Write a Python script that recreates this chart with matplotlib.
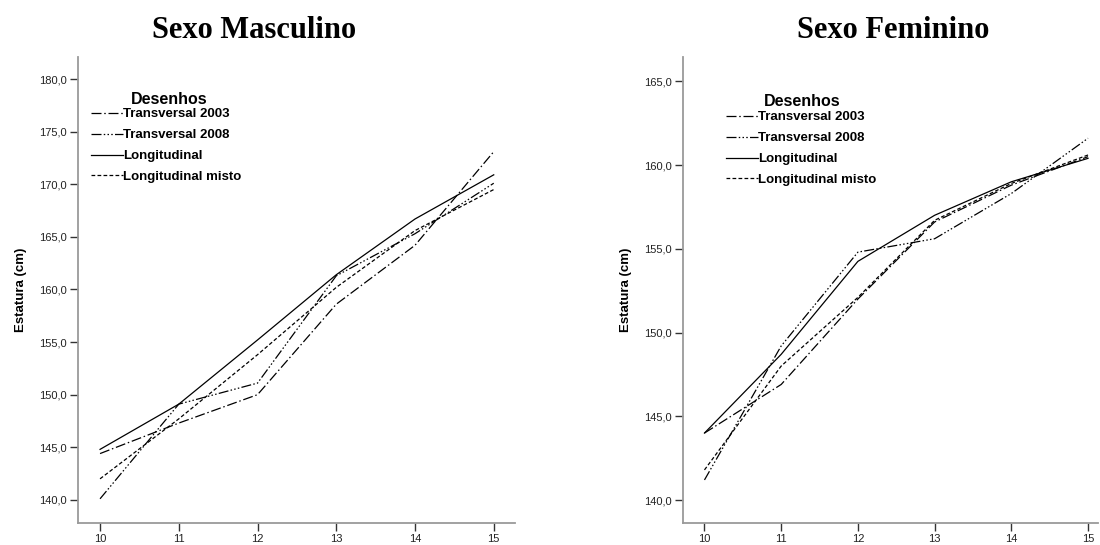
import matplotlib
matplotlib.use("Agg")
import matplotlib.pyplot as plt
from matplotlib.ticker import FuncFormatter

ages = [10, 11, 12, 13, 14, 15]

# Sexo Masculino
masc_t2003 = [144.4, 147.3, 150.0, 158.6, 164.2, 173.1]
masc_t2008 = [140.1, 149.1, 151.1, 161.3, 165.3, 170.1]
masc_long = [144.8, 149.1, 155.2, 161.4, 166.7, 170.9]
masc_misto = [142.0, 147.7, 153.8, 160.2, 165.6, 169.5]

# Sexo Feminino
fem_t2003 = [144.0, 146.9, 152.0, 156.6, 158.8, 160.5]
fem_t2008 = [141.2, 149.2, 154.8, 155.6, 158.3, 161.6]
fem_long = [144.0, 148.7, 154.25, 157.0, 159.0, 160.4]
fem_misto = [141.8, 148.0, 152.1, 156.7, 158.9, 160.6]

series_labels = ["Transversal 2003", "Transversal 2008", "Longitudinal", "Longitudinal misto"]
masc_yticks = [140, 145, 150, 155, 160, 165, 170, 175, 180]
fem_yticks = [140, 145, 150, 155, 160, 165]

plt.rcParams['font.family'] = ['Liberation Sans', 'DejaVu Sans']

fig = plt.figure(figsize=(11, 5.45), dpi=100)
W, H = 1100, 545

def px_axes(x0, x1, ytop, ybot):
    return fig.add_axes([x0 / W, 1 - ybot / H, (x1 - x0) / W, (ybot - ytop) / H])

ax1 = px_axes(78, 515, 57, 523)
ax2 = px_axes(683, 1098, 57, 523)

styles = [
    dict(dashes=[8, 2.2, 1.2, 2.2]),
    dict(dashes=[8, 1.8, 1.2, 1.8, 1.2, 1.8, 1.2, 1.8]),
    dict(linestyle='-'),
    dict(dashes=[3, 1.8]),
]

fmt = FuncFormatter(lambda v, p: f"{v:.1f}".replace('.', ','))

def draw(ax, data, yticks, ylim, xlim):
    for vals, lab, st in zip(data, series_labels, styles):
        ax.plot(ages, vals, color='black', lw=0.9, label=lab, **st)
    ax.set_xlim(*xlim)
    ax.set_ylim(*ylim)
    ax.set_xticks(ages)
    ax.set_yticks(yticks)
    ax.yaxis.set_major_formatter(fmt)
    for s in ['top', 'right']:
        ax.spines[s].set_visible(False)
    for s in ['left', 'bottom']:
        ax.spines[s].set_color('#9a9a9a')
        ax.spines[s].set_linewidth(1.3)
    ax.tick_params(axis='both', length=6, width=1.0, color='#333333',
                   labelsize=8, labelcolor='#222222', pad=2)
    ax.set_ylabel("Estatura (cm)", fontsize=9.5, fontweight='bold', labelpad=9)

draw(ax1, [masc_t2003, masc_t2008, masc_long, masc_misto], masc_yticks,
     (137.8, 182.1), (9.72, 15.27))
draw(ax2, [fem_t2003, fem_t2008, fem_long, fem_misto], fem_yticks,
     (138.63, 166.45), (9.72, 15.13))

for ax, xtitle in [(ax1, 254), (ax2, 893)]:
    fig.text(xtitle / W, 1 - 30 / H, "Sexo Masculino" if ax is ax1 else "Sexo Feminino",
             ha='center', va='center', fontsize=22, fontweight='bold',
             family=['Liberation Serif', 'DejaVu Serif'])

def legend(ax, x, y, tx, ty):
    ax.legend(loc='upper left', bbox_to_anchor=(x / W, 1 - y / H),
              bbox_transform=fig.transFigure, frameon=False,
              handlelength=2.4, handletextpad=0.0,
              labelspacing=0.66, borderpad=0, borderaxespad=0,
              prop=dict(size=9.5, weight='bold'))
    fig.text(tx / W, 1 - ty / H, "Desenhos", ha='center', va='center',
             fontsize=11.5, fontweight='bold')

legend(ax1, 91, 108, 169, 99)
legend(ax2, 726, 111, 802, 101)

fig.savefig("out.png", dpi=100)
